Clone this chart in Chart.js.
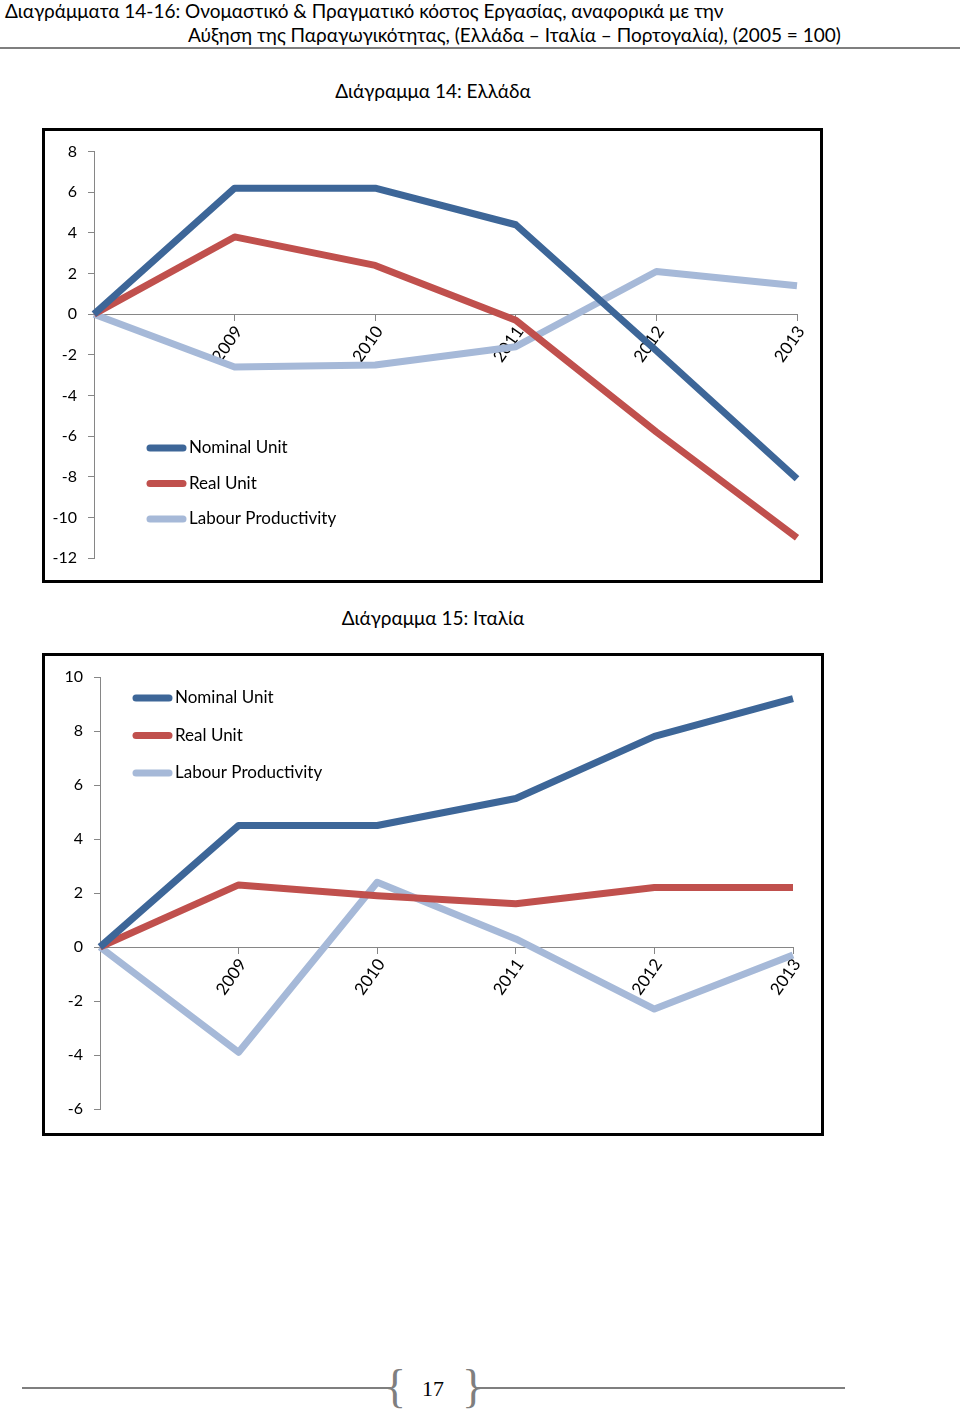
<!DOCTYPE html>
<html lang="el">
<head>
<meta charset="utf-8">
<script src="https://cdn.jsdelivr.net/npm/chart.js@4.4.1/dist/chart.umd.min.js"></script>
<style>
  html, body { margin: 0; padding: 0; background: #fff; }
  body { width: 960px; height: 1411px; position: relative; overflow: hidden; font-family: Lato, 'Noto Sans', sans-serif; color: #000; }
  .txt { position: absolute; white-space: nowrap; font-size: 19px; line-height: 24px; }
  .center { text-align: center; left: 0; width: 866px; }
  .rule { position: absolute; height: 2px; background: #7f7f7f; }
  .box { position: absolute; border: 3px solid #000; box-sizing: border-box; }
  .box canvas { display: block; }
  .brace { position: absolute; font-family: 'Liberation Serif', serif; font-size: 46px; line-height: 46px; color: #7f7f7f; }
  .page { position: absolute; font-family: 'Liberation Serif', serif; font-size: 22px; line-height: 24px; }
</style>
</head>
<body>

<div class="txt" style="left:5px; top:-1px;">Διαγράμματα 14-16: Ονομαστικό &amp; Πραγματικό κόστος Εργασίας, αναφορικά με την</div>
<div class="txt" style="left:188px; top:23px;">Αύξηση της Παραγωγικότητας, (Ελλάδα – Ιταλία – Πορτογαλία), (2005 = 100)</div>
<div class="rule" style="left:0; top:47px; width:960px;"></div>

<div class="txt center" style="top:79px;">Διάγραμμα 14: Ελλάδα</div>
<div class="box" style="left:42px; top:128px; width:781px; height:455px;"><canvas id="greece"></canvas></div>

<div class="txt center" style="top:606px;">Διάγραμμα 15: Ιταλία</div>
<div class="box" style="left:42px; top:653px; width:782px; height:483px;"><canvas id="italy"></canvas></div>

<div class="rule" style="left:22px; top:1387px; width:369px;"></div>
<div class="brace" style="left:384px; top:1364px;">{</div>
<div class="page" style="left:422px; top:1377px;">17</div>
<div class="brace" style="left:462px; top:1364px;">}</div>
<div class="rule" style="left:475px; top:1387px; width:370px;"></div>

<script>
// κατηγορίες και τιμές (2005 = 100, μεταβολές)
const years = ['', '2009', '2010', '2011', '2012', '2013'];
const seriesNames = ['Nominal Unit', 'Real Unit', 'Labour Productivity'];
const seriesColors = ['#3d6698', '#c0504d', '#a6b9d8'];

const greeceNominal = [0, 6.2, 6.2, 4.4, -1.8, -8.1];
const greeceReal = [0, 3.8, 2.4, -0.3, -5.8, -11.0];
const greeceProductivity = [0, -2.6, -2.5, -1.6, 2.1, 1.4];
const greeceTicks = [-12, -10, -8, -6, -4, -2, 0, 2, 4, 6, 8];

const italyNominal = [0, 4.5, 4.5, 5.5, 7.8, 9.2];
const italyReal = [0, 2.3, 1.9, 1.6, 2.2, 2.2];
const italyProductivity = [0, -3.9, 2.4, 0.3, -2.3, -0.3];
const italyTicks = [-6, -4, -2, 0, 2, 4, 6, 8, 10];

Chart.defaults.font.family = "Lato, 'Noto Sans', sans-serif";
Chart.defaults.color = '#000';

// υπόμνημα μέσα στο γράφημα, όπως στο Excel
const lineLegend = {
  id: 'lineLegend',
  afterDraw(chart, args, opts) {
    const ctx = chart.ctx;
    ctx.save();
    ctx.font = opts.font;
    ctx.textBaseline = 'middle';
    chart.data.datasets.forEach((ds, i) => {
      const y = opts.y + i * opts.gap;
      ctx.strokeStyle = ds.borderColor;
      ctx.lineWidth = 7;
      ctx.lineCap = 'round';
      ctx.beginPath();
      ctx.moveTo(opts.x + 3, y);
      ctx.lineTo(opts.x + 36, y);
      ctx.stroke();
      ctx.fillStyle = '#000';
      ctx.fillText(ds.label, opts.x + 42, y);
    });
    ctx.restore();
  }
};

function makeDatasets(values) {
  return values.map((data, i) => ({
    label: seriesNames[i],
    data: data,
    borderColor: seriesColors[i],
    backgroundColor: seriesColors[i],
    borderWidth: 7,
    borderJoinStyle: 'round',
    pointRadius: 0,
    tension: 0
  }));
}

function renderChart(id, values, ticks, axisWidth, padding, legend) {
  new Chart(document.getElementById(id), {
    type: 'line',
    data: {
      labels: years,
      datasets: makeDatasets(values)
    },
    options: {
      responsive: true,
      maintainAspectRatio: false,
      animation: false,
      layout: { padding: padding },
      plugins: {
        legend: { display: false },
        tooltip: { enabled: false },
        lineLegend: legend
      },
      scales: {
        x: {
          position: { y: 0 },
          offset: false,
          z: 1,
          afterFit: (s) => { s.height = 0; },
          grid: { drawOnChartArea: false, tickLength: 6, color: '#868686' },
          border: { color: '#868686', width: 1 },
          ticks: { minRotation: 55, maxRotation: 55, autoSkip: false, padding: 2, labelOffset: 4, font: { size: 17 } }
        },
        y: {
          min: ticks[0],
          max: ticks[ticks.length - 1],
          afterBuildTicks: (s) => { s.ticks = ticks.map(v => ({ value: v })); },
          afterFit: (s) => { s.width = axisWidth; },
          grid: { drawOnChartArea: false, tickLength: 6, color: '#868686' },
          border: { color: '#868686', width: 1 },
          ticks: { padding: 11, font: { size: 16 } }
        }
      }
    },
    plugins: [lineLegend]
  });
}

renderChart('greece', [greeceNominal, greeceReal, greeceProductivity], greeceTicks, 49,
  { left: 0, right: 23, top: 20, bottom: 22 },
  { x: 102, y: 317, gap: 35.5, font: "17px Lato, 'Noto Sans', sans-serif" });

renderChart('italy', [italyNominal, italyReal, italyProductivity], italyTicks, 55,
  { left: 0, right: 28, top: 21, bottom: 24 },
  { x: 88, y: 42, gap: 37.5, font: "17px Lato, 'Noto Sans', sans-serif" });
</script>
</body>
</html>
